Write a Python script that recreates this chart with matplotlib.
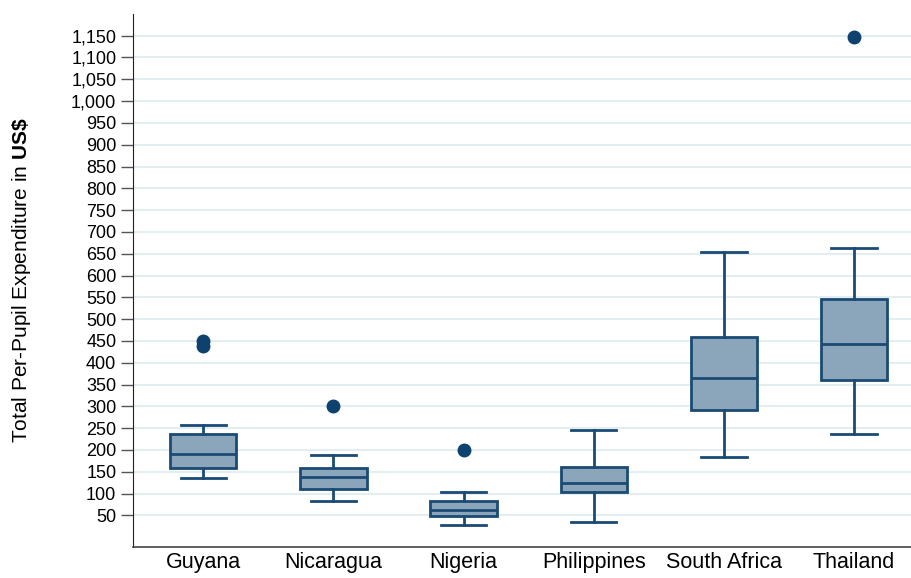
import matplotlib

matplotlib.use("Agg")

import matplotlib.pyplot as plt
from matplotlib.ticker import FuncFormatter

plt.rcParams["font.family"] = ["Liberation Sans", "DejaVu Sans"]
plt.rcParams["mathtext.fontset"] = "custom"
plt.rcParams["mathtext.rm"] = "Liberation Sans"
plt.rcParams["mathtext.bf"] = "Liberation Sans:bold"

countries = ["Guyana", "Nicaragua", "Nigeria", "Philippines", "South Africa", "Thailand"]
whisker_low = [135, 84, 27, 35, 183, 236]
q1 = [158, 110, 48, 103, 291, 361]
median = [190, 139, 63, 125, 365, 443]
q3 = [237, 158, 82, 162, 459, 546]
whisker_high = [258, 189, 103, 245, 653, 663]
outliers = [[450, 439], [300], [200], [], [], [1146]]

BOX_FILL = "#8ba5bb"
BOX_EDGE = "#1b4b74"
DOT = "#0d416e"

stats = [
    {"label": c, "whislo": lo, "q1": a, "med": m, "q3": b, "whishi": hi, "fliers": f}
    for c, lo, a, m, b, hi, f in zip(countries, whisker_low, q1, median, q3, whisker_high, outliers)
]

fig = plt.figure(figsize=(9.11, 5.78), dpi=100)
ax = fig.add_axes([0.146, 0.054, 0.86, 0.922])

ax.bxp(
    stats,
    positions=range(len(countries)),
    widths=0.51,
    patch_artist=True,
    boxprops=dict(facecolor=BOX_FILL, edgecolor=BOX_EDGE, linewidth=2),
    medianprops=dict(color=BOX_EDGE, linewidth=2),
    whiskerprops=dict(color=BOX_EDGE, linewidth=2),
    capprops=dict(color=BOX_EDGE, linewidth=2),
    capwidths=0.35,
    flierprops=dict(marker="o", markerfacecolor=DOT, markeredgecolor=DOT, markersize=9),
    zorder=3,
)

ax.set_xlim(-0.54, 5.48)
ax.set_ylim(-22, 1200)
ax.set_yticks(range(50, 1151, 50))
ax.yaxis.set_major_formatter(FuncFormatter(lambda v, _: f"{int(v):,}"))
ax.grid(axis="y", color="#e4edf0", linewidth=1.5, zorder=0)
ax.set_axisbelow(True)

ax.tick_params(axis="y", length=9, width=1, color="#555555", labelsize=13, pad=3)
# category names sit just under the baseline, small enough to stay inside the canvas
ax.tick_params(axis="x", length=0, labelsize=15.5, pad=4)

for side in ("top", "right"):
    ax.spines[side].set_visible(False)
ax.spines["left"].set_color("#222222")
ax.spines["bottom"].set_color("#444444")
ax.spines["bottom"].set_linewidth(1.2)

ax.set_ylabel(r"Total Per-Pupil Expenditure in $\mathbf{US\$}$", fontsize=15)
ax.yaxis.set_label_coords(-0.128, 0.5)

fig.savefig("out.png", dpi=100)
